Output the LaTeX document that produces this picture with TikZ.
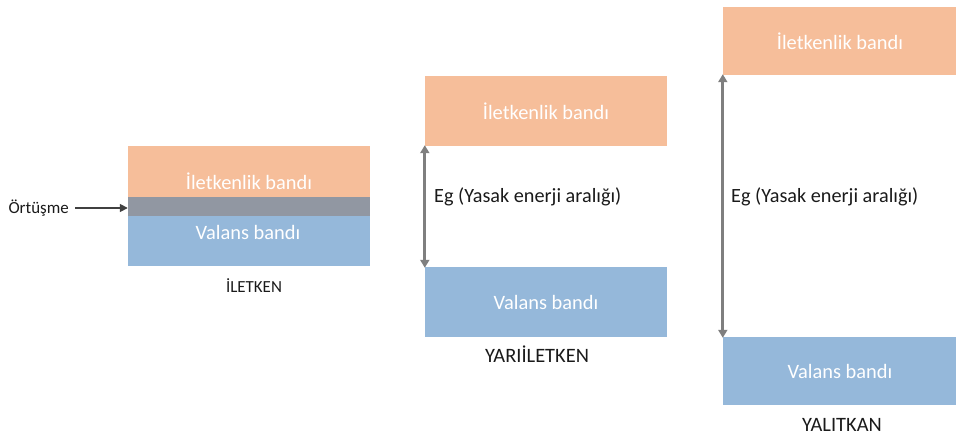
\documentclass[tikz,border=0pt]{standalone}
\usepackage{fontspec}
\setmainfont{Carlito}
\usetikzlibrary{arrows.meta}
\definecolor{condband}{HTML}{F6BE9A}
\definecolor{valband}{HTML}{95B8DA}
\definecolor{overlapband}{HTML}{9197A2}
\definecolor{gaparrow}{HTML}{7F7F7F}
\definecolor{labeltext}{HTML}{1A1A1A}
\tikzset{
  band/.style={rectangle, inner sep=0pt, text=white, font=\fontsize{20.5}{24}\selectfont},
  cband/.style={band, fill=condband},
  vband/.style={band, fill=valband},
  caption/.style={inner sep=0pt, text=labeltext, font=\fontsize{20.5}{24}\selectfont},
  smallcaption/.style={caption, font=\fontsize{17}{20}\selectfont},
  gaplabel/.style={inner sep=0pt, anchor=west, text=labeltext, font=\fontsize{20.3}{24}\selectfont},
  gap/.style={draw=gaparrow, line width=3bp, {Triangle[width=9bp,length=8bp]}-{Triangle[width=9bp,length=8bp]}, shorten <=-1bp, shorten >=-1bp},
}
\begin{document}
\begin{tikzpicture}[x=1bp,y=-1bp]
\useasboundingbox (0,0) rectangle (956,436);

% conductor: overlapping bands
\node[cband, minimum width=242bp, minimum height=70bp] (c1) at (249,181) {İletkenlik bandı};
\node[vband, minimum width=242bp, minimum height=69bp, anchor=north] (v1) at (249,197) {};
\node[rectangle, fill=overlapband, inner sep=0pt, minimum width=242bp, minimum height=19bp, anchor=north] (o1) at (249,197) {};
\node[band, anchor=center] (v1t) at (248,232) {Valans bandı};
\node[smallcaption] (t1) at (254,286) {İLETKEN};
\node[smallcaption, anchor=east] (ov) at (69,208) {Örtüşme};
\draw[draw=black!75, line width=1.6bp, -{Triangle[width=8bp,length=8bp]}] (ov.east) ++(6,0) coordinate (ovs) (ovs) -- (o1.west |- ovs);

% semiconductor
\node[cband, minimum width=242bp, minimum height=70bp] (c2) at (546,111) {İletkenlik bandı};
\node[vband, minimum width=242bp, minimum height=70bp] (v2) at (546,302) {Valans bandı};
\node[caption] (t2) at (537,354) {YARIİLETKEN};
\draw[gap] (c2.south west) -- (v2.north west);
\node[gaplabel] (e2) at (434,197) {Eg (Yasak enerji aralığı)};

% insulator
\node[cband, minimum width=234bp, minimum height=68bp] (c3) at (840,41) {İletkenlik bandı};
\node[vband, minimum width=234bp, minimum height=68bp] (v3) at (840,371) {Valans bandı};
\node[caption] (t3) at (842,425) {YALITKAN};
\draw[gap] (c3.south west) -- (v3.north west);
\node[gaplabel] (e3) at (731,197) {Eg (Yasak enerji aralığı)};
\end{tikzpicture}
\end{document}
